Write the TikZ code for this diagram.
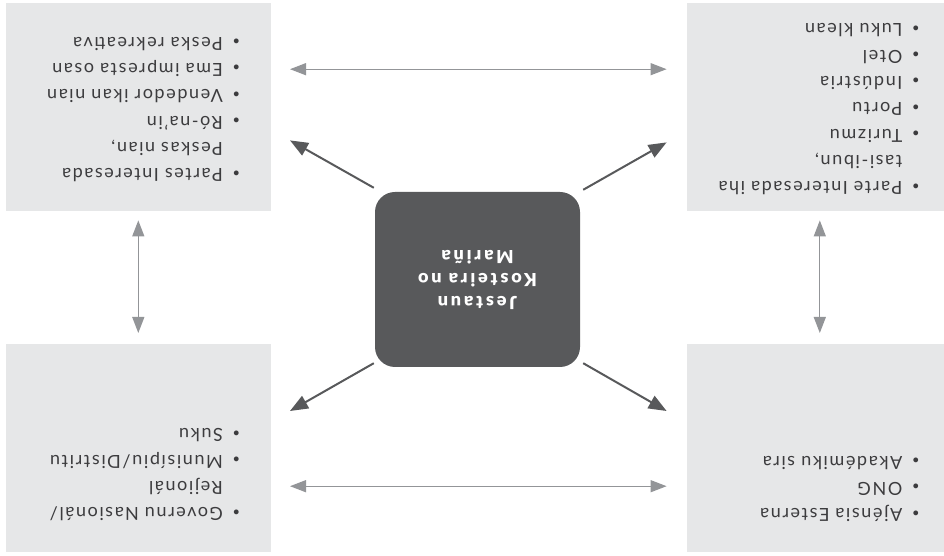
\documentclass[tikz,border=0pt]{standalone}
\usepackage{fontspec}
\setmainfont{Lato}[LetterSpace=9]
\newfontfamily\hubfont{Lato Black}[LetterSpace=16]
\usetikzlibrary{arrows.meta}
\definecolor{panelfill}{HTML}{E6E7E8}
\definecolor{hubfill}{HTML}{58595B}
\definecolor{lightline}{HTML}{939598}
\definecolor{darkline}{HTML}{58595B}
\definecolor{bodytext}{HTML}{3C3C3E}
% one bulleted entry with a hanging indent
\newcommand\bitem[1]{\par\noindent\hangindent=27pt\hangafter=1\makebox[27pt][c]{\raisebox{0.5pt}{\fontsize{13}{13}\selectfont•}}#1\par}
\begin{document}
\begin{tikzpicture}[x=1pt,y=1pt,
  panel/.style={fill=panelfill,draw=none,inner sep=0pt,anchor=south west,minimum height=208pt},
  bullettext/.style={anchor=base west,inner sep=0pt,text width=250pt,text=bodytext,
    font=\fontsize{18}{26.3}\selectfont},
  hub/.style={fill=hubfill,draw=none,rounded corners=20pt,minimum width=205pt,minimum height=175pt,
    inner sep=0pt,text=white,align=center,font=\hubfont\fontsize{18}{23}\selectfont},
  greyarrow/.style={draw=lightline,line width=1.3pt,{Triangle[length=16pt,width=12pt]}-{Triangle[length=16pt,width=12pt]}},
  darkarrow/.style={draw=darkline,line width=2pt,-{Triangle[length=18pt,width=14pt]}}]
\useasboundingbox (0,0) rectangle (944,556);
\begin{scope}[rotate around={180:(472,278)},transform shape]
  % four stakeholder panels
  \node[panel,minimum width=257pt] (ul) at (0,344) {};
  \node[panel,minimum width=265pt] (ur) at (673,344) {};
  \node[panel,minimum width=257pt] (ll) at (0,3) {};
  \node[panel,minimum width=265pt] (lr) at (673,3) {};
  % central topic
  \node[hub] (hub) at (466.5,279.5) {Jestaun\\Kosteira no\\Mariña};
  % panel texts
  \node[bullettext] (ultext) at (14.5,535) {\bitem{Ajénsia Esterna}\bitem{ONG}\bitem{Akadémiku sira}};
  \node[bullettext] (urtext) at (694,534) {\bitem{Governu Nasionál/\newline Rejionál}\bitem{Munisípiu/Distritu}\bitem{Suku}};
  \node[bullettext] (lltext) at (14.5,208) {\bitem{Parte Interesada iha\newline tasi-ibun,}\bitem{Turizmu}\bitem{Portu}\bitem{Indústria}\bitem{Otel}\bitem{Luku klean}};
  \node[bullettext] (lrtext) at (694,195) {\bitem{Partes Interesada\newline Peskas nian,}\bitem{Ró-na'in}\bitem{Vendedor ikan nian}\bitem{Ema impresta osan}\bitem{Peska rekreativa}};
  % links between neighbouring panels
  \draw[greyarrow] ([shift={(20,38)}]ul.east) -- ([shift={(-19,38)}]ur.west);
  \draw[greyarrow] ([shift={(20,-38)}]ll.east) -- ([shift={(-19,-38)}]lr.west);
  \draw[greyarrow] ([shift={(-4.5,-11)}]ul.south) -- ([shift={(-4.5,9)}]ll.north);
  \draw[greyarrow] ([shift={(0,-11)}]ur.south) -- ([shift={(0,9)}]lr.north);
  % links from the centre outwards
  \draw[darkarrow] ([shift={(-3,-4)}]hub.north west) -- ([shift={(20,67)}]ul.south east);
  \draw[darkarrow] ([shift={(1,-4)}]hub.north east) -- ([shift={(-19,67)}]ur.south west);
  \draw[darkarrow] ([shift={(-3,-2)}]hub.south west) -- ([shift={(20,-69)}]ll.north east);
  \draw[darkarrow] ([shift={(1,-4)}]hub.south east) -- ([shift={(-19,-71)}]lr.north west);
\end{scope}
\end{tikzpicture}
\end{document}
